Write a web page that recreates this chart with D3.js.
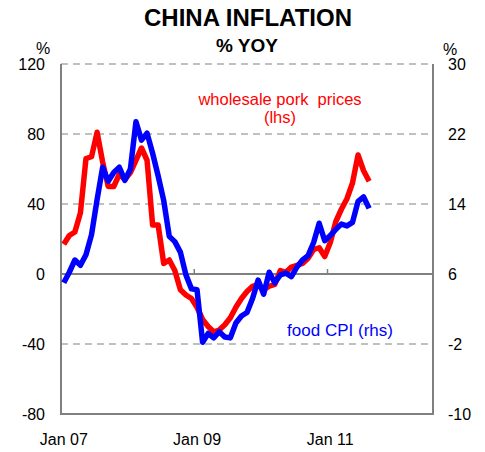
<!DOCTYPE html>
<html>
<head>
<meta charset="utf-8">
<script src="https://cdn.jsdelivr.net/npm/d3@7"></script>
<style>
  body { margin: 0; background: #fff; }
  text { font-family: "Liberation Sans", Arial, sans-serif; }
</style>
</head>
<body>
<div id="chart"></div>
<script>
// monthly, Jan 07 .. Aug 11
var porkPrices = [17, 22, 24, 35, 66, 67, 81, 64, 50, 50, 57, 54,
  58, 65, 72, 65, 28, 28, 6, 8, 2, -9, -12, -14,
  -19, -26, -30, -33, -32, -29, -25, -19, -14, -10, -7, -6,
  -9, -7, -6, 2, 1, 4, 5, 6, 9, 14, 15, 10,
  18, 30, 37, 43, 52, 68, 59, 53];

var foodCpi = [5, 6.2, 7.6, 7.0, 8.2, 10.5, 14.5, 18.2, 16.6, 17.6, 18.2, 16.7,
  18.0, 23.4, 21.3, 22.1, 19.8, 17.2, 14.4, 10.3, 9.7, 8.5, 5.9, 4.3,
  4.2, -1.8, -0.8, -1.3, -0.6, -1.2, -1.3, 0.4, 1.2, 1.6, 3.2, 5.3,
  3.7, 6.2, 5.0, 5.9, 6.1, 5.7, 6.8, 7.6, 8.1, 9.6, 11.8, 9.8,
  10.4, 11.1, 11.7, 11.5, 11.9, 14.3, 14.8, 13.5];

var leftTicks = [-80, -40, 0, 40, 80, 120];
var rightTicks = [-10, -2, 6, 14, 22, 30];
var xTickLabels = ["Jan 07", "Jan 09", "Jan 11"];
var xTickMonths = [0, 24, 48];
var monthCount = 67;

var svgWidth = 485;
var svgHeight = 452;
var margin = { top: 64, bottom: 38, left: 61, right: 52 };
var width = svgWidth - margin.left - margin.right;
var height = svgHeight - margin.top - margin.bottom;

var svg = d3.select("#chart")
  .append("svg")
  .attr("width", svgWidth)
  .attr("height", svgHeight);

var chartGroup = svg.append("g")
  .attr("transform", `translate(${margin.left}, ${margin.top})`);

// category axis, points sit in the middle of each month
var xScale = d3.scaleLinear().domain([0, monthCount]).range([0, width]);
var yLeft = d3.scaleLinear().domain([-80, 120]).range([height, 0]);
var yRight = d3.scaleLinear().domain([-10, 30]).range([height, 0]);

// dashed gridlines
chartGroup.selectAll(".grid")
  .data(leftTicks.filter(d => d !== 0 && d !== -80))
  .enter()
  .append("line")
  .attr("x1", 0)
  .attr("x2", width)
  .attr("y1", d => yLeft(d))
  .attr("y2", d => yLeft(d))
  .attr("stroke", "#c0c0c0")
  .attr("stroke-width", 2)
  .attr("stroke-dasharray", "7,5");

// frame: left, right, bottom
chartGroup.append("path")
  .attr("d", `M0,${yLeft(120)}V${height}H${width}V${yLeft(120)}`)
  .attr("fill", "none")
  .attr("stroke", "#808080")
  .attr("stroke-width", 2);

// zero line with month ticks
chartGroup.append("line")
  .attr("x1", 0)
  .attr("x2", width)
  .attr("y1", yLeft(0))
  .attr("y2", yLeft(0))
  .attr("stroke", "#808080")
  .attr("stroke-width", 2);

chartGroup.selectAll(".xtick")
  .data(xTickMonths.filter(d => d > 0))
  .enter()
  .append("line")
  .attr("x1", d => xScale(d))
  .attr("x2", d => xScale(d))
  .attr("y1", yLeft(0))
  .attr("y2", yLeft(0) - 5)
  .attr("stroke", "#808080")
  .attr("stroke-width", 1.5);

// series
var porkLine = d3.line()
  .x((d, i) => xScale(i + 0.5))
  .y(d => yLeft(d));

var cpiLine = d3.line()
  .x((d, i) => xScale(i + 0.5))
  .y(d => yRight(d));

chartGroup.append("path")
  .datum(porkPrices)
  .attr("d", porkLine)
  .attr("fill", "none")
  .attr("stroke", "#ff0000")
  .attr("stroke-width", 5.5)
  .attr("stroke-linejoin", "round");

chartGroup.append("path")
  .datum(foodCpi)
  .attr("d", cpiLine)
  .attr("fill", "none")
  .attr("stroke", "#0000ff")
  .attr("stroke-width", 5.5)
  .attr("stroke-linejoin", "round");

// axis labels
chartGroup.selectAll(".lefttick")
  .data(leftTicks)
  .enter()
  .append("text")
  .attr("x", -16)
  .attr("y", d => yLeft(d) + 6)
  .attr("text-anchor", "end")
  .attr("font-size", "16px")
  .text(d => d);

chartGroup.selectAll(".righttick")
  .data(rightTicks)
  .enter()
  .append("text")
  .attr("x", width + 15)
  .attr("y", d => yRight(d) + 6)
  .attr("font-size", "16px")
  .text(d => d);

chartGroup.selectAll(".xlabel")
  .data(xTickMonths)
  .enter()
  .append("text")
  .attr("x", d => xScale(d + 0.5))
  .attr("y", height + 31)
  .attr("text-anchor", "middle")
  .attr("font-size", "16px")
  .text((d, i) => xTickLabels[i]);

svg.append("text")
  .attr("x", 43)
  .attr("y", 54)
  .attr("text-anchor", "middle")
  .attr("font-size", "16px")
  .text("%");

svg.append("text")
  .attr("x", 450)
  .attr("y", 55)
  .attr("text-anchor", "middle")
  .attr("font-size", "16px")
  .text("%");

// titles
svg.append("text")
  .attr("x", 248)
  .attr("y", 26)
  .attr("text-anchor", "middle")
  .attr("font-size", "24px")
  .attr("font-weight", "bold")
  .text("CHINA INFLATION");

svg.append("text")
  .attr("x", 247)
  .attr("y", 52)
  .attr("text-anchor", "middle")
  .attr("font-size", "19px")
  .attr("font-weight", "bold")
  .text("% YOY");

// series notes
svg.append("text")
  .attr("x", 280)
  .attr("y", 105)
  .attr("text-anchor", "middle")
  .attr("font-size", "16.5px")
  .attr("fill", "#ff0000")
  .attr("xml:space", "preserve")
  .text("wholesale pork  prices");

svg.append("text")
  .attr("x", 280)
  .attr("y", 123)
  .attr("text-anchor", "middle")
  .attr("font-size", "16.5px")
  .attr("fill", "#ff0000")
  .text("(lhs)");

svg.append("text")
  .attr("x", 340)
  .attr("y", 336)
  .attr("text-anchor", "middle")
  .attr("font-size", "17px")
  .attr("fill", "#0000ff")
  .text("food CPI (rhs)");
</script>
</body>
</html>
